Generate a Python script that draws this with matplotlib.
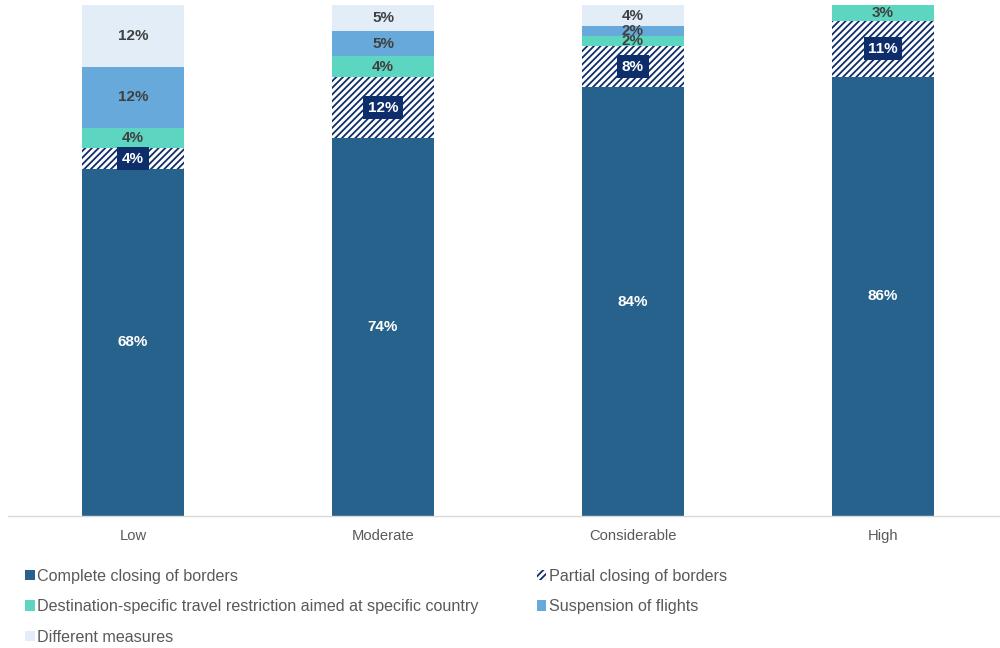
import matplotlib
matplotlib.use("Agg")
import matplotlib.pyplot as plt
import numpy as np

categories = ["Low", "Moderate", "Considerable", "High"]
series_names = ["Complete closing of borders", "Partial closing of borders",
                "Destination-specific travel restriction aimed at specific country",
                "Suspension of flights", "Different measures"]
complete = [68, 74, 84, 86]
partial = [4, 12, 8, 11]
destination = [4, 4, 2, 3]
suspension = [12, 5, 2, 0]
different = [12, 5, 4, 0]

plt.rcParams['font.family'] = ['Liberation Sans', 'DejaVu Sans']
plt.rcParams['hatch.linewidth'] = 1.3
plt.rcParams['hatch.color'] = '#0E2D6B'

fig = plt.figure(figsize=(10, 6.48), dpi=100)
ax = fig.add_axes([0.008, 0.2037, 1.0, 0.788])

x = np.arange(len(categories))
w = 0.41
data = [complete, partial, destination, suspension, different]
colors = ['#27628C', 'white', '#5CD6C1', '#67A9DA', '#E2EDF8']
hatches = [None, '/////', None, None, None]
label_style = ['white', 'box', 'dark', 'dark', 'dark']

bottom = np.zeros(len(categories))
handles = []
for vals, col, h, name, ls in zip(data, colors, hatches, series_names, label_style):
    vals = np.array(vals, dtype=float)
    bars = ax.bar(x, vals, w, bottom=bottom, color=col, hatch=h,
                  edgecolor='#0E2D6B' if h else col, linewidth=0, label=name)
    handles.append(bars)
    for xi, v, b in zip(x, vals, bottom):
        if v <= 0:
            continue
        yc = b + v / 2
        txt = f"{int(v)}%"
        if ls == 'white':
            ax.text(xi, yc, txt, ha='center', va='center', color='white',
                    fontsize=11, fontweight='bold')
        elif ls == 'box':
            ax.text(xi, yc, txt, ha='center', va='center', color='white',
                    fontsize=11, fontweight='bold',
                    bbox=dict(boxstyle='square,pad=0.3', fc='#0E2D6B', ec='none'))
        else:
            ax.text(xi, yc, txt, ha='center', va='center', color='#404040',
                    fontsize=11, fontweight='bold')
    bottom += vals

ax.set_xlim(-0.5, 3.5)
ax.set_ylim(0, 100)
ax.set_xticks(x)
ax.set_xticklabels(categories, fontsize=10.6, color='#595959')
ax.tick_params(axis='x', length=0, pad=9)
ax.set_yticks([])
for s in ['top', 'right', 'left']:
    ax.spines[s].set_visible(False)
ax.spines['bottom'].set_color('#D9D9D9')
ax.spines['bottom'].set_linewidth(1)

order = [0, 2, 4, 1, 3]
leg = fig.legend([handles[i] for i in order], [series_names[i] for i in order],
                 loc='upper left', bbox_to_anchor=(0.025, 0.122), ncol=2,
                 frameon=False, fontsize=11.6, handlelength=0.6, handleheight=0.6,
                 handletextpad=0.15, columnspacing=3.6, labelspacing=0.95,
                 borderaxespad=0, borderpad=0)
for t in leg.get_texts():
    t.set_color('#595959')

fig.savefig("out.png", dpi=100)
